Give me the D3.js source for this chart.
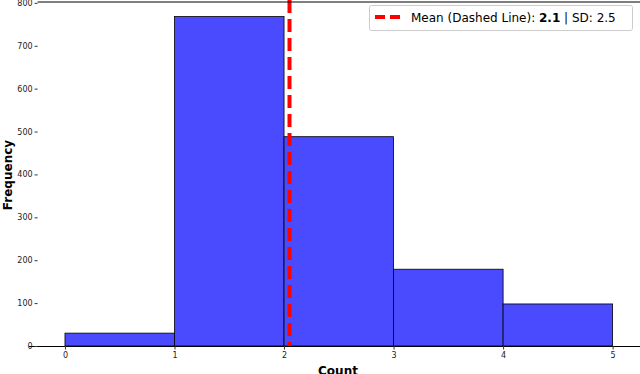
<!DOCTYPE html>
<html>
<head>
<meta charset="utf-8">
<script src="https://cdn.jsdelivr.net/npm/d3@7"></script>
<style>
  body { margin: 0; background: #fff; }
  svg { display: block; font-family: "DejaVu Sans", sans-serif; }
</style>
</head>
<body>
<svg id="chart" width="640" height="374"></svg>
<script>
// histogram bins (edges) and counts
const binEdges = [0, 1, 2, 3, 4, 5];
const binCounts = [30, 768, 488, 179, 98];
const xTicks = [0, 1, 2, 3, 4, 5];
const yTicks = [0, 100, 200, 300, 400, 500, 600, 700, 800];
const meanValue = 2.05;
const meanLabel = '2.1';
const sdLabel = '2.5';

const width = 640, height = 374;
const svg = d3.select('#chart');

const x = d3.scaleLinear().domain([-0.25, 5.25]).range([37.6, 640]);
const y = d3.scaleLinear().domain([0, 802]).range([346, 2]);

const bins = binCounts.map((c, i) => ({ x0: binEdges[i], x1: binEdges[i + 1], count: c }));

svg.selectAll('.bar')
  .data(bins)
  .enter().append('rect')
  .attr('class', 'bar')
  .attr('x', d => x(d.x0))
  .attr('width', d => x(d.x1) - x(d.x0))
  .attr('y', d => y(d.count))
  .attr('height', d => y(0) - y(d.count))
  .attr('fill', '#4a4aff')
  .attr('stroke', '#000')
  .attr('stroke-width', 0.8);

// mean line
svg.append('line')
  .attr('x1', x(meanValue)).attr('x2', x(meanValue))
  .attr('y1', 0).attr('y2', y(0))
  .attr('stroke', '#ff0000')
  .attr('stroke-width', 4)
  .attr('stroke-dasharray', '13,6');

// x axis
const xAxis = svg.append('g')
  .attr('transform', 'translate(0,' + y(0) + ')')
  .call(d3.axisBottom(x).tickValues(xTicks).tickSize(3.5).tickPadding(3).tickFormat(d3.format('d')));
xAxis.select('.domain').attr('d', 'M29,0.5H640').attr('stroke', '#000').attr('stroke-width', 1.2);
xAxis.selectAll('.tick text').attr('font-size', 8).attr('fill', '#222').attr('font-family', 'DejaVu Sans');
xAxis.selectAll('.tick line').attr('stroke', '#333');

// top spine
svg.append('line')
  .attr('x1', 37.6).attr('x2', 640)
  .attr('y1', y.range()[1]).attr('y2', y.range()[1])
  .attr('stroke', '#000').attr('stroke-width', 1.2);

// y axis (no spine)
const yAxis = svg.append('g')
  .attr('transform', 'translate(37.6,0)')
  .call(d3.axisLeft(y).tickValues(yTicks).tickSize(3).tickPadding(2));
yAxis.select('.domain').remove();
yAxis.selectAll('.tick text').attr('font-size', 8).attr('fill', '#222').attr('font-family', 'DejaVu Sans');
yAxis.selectAll('.tick line').attr('stroke', '#333');

// axis labels
svg.append('text')
  .attr('x', 338).attr('y', 375)
  .attr('text-anchor', 'middle')
  .attr('font-size', 12).attr('font-weight', 'bold')
  .text('Count');

svg.append('text')
  .attr('transform', 'translate(11.5,175) rotate(-90)')
  .attr('text-anchor', 'middle')
  .attr('font-size', 12).attr('font-weight', 'bold')
  .text('Frequency');

// legend
const legend = svg.append('g');
legend.append('rect')
  .attr('x', 369.5).attr('y', 5.5)
  .attr('width', 263).attr('height', 25)
  .attr('rx', 2)
  .attr('fill', '#fff').attr('fill-opacity', 0.85)
  .attr('stroke', '#ccc');
legend.append('line')
  .attr('x1', 375).attr('x2', 402)
  .attr('y1', 17).attr('y2', 17)
  .attr('stroke', '#ff0000').attr('stroke-width', 4)
  .attr('stroke-dasharray', '10,5');
const lt = legend.append('text')
  .attr('x', 411).attr('y', 22)
  .attr('font-size', 12).attr('fill', '#000');
lt.append('tspan').text('Mean (Dashed Line): ');
lt.append('tspan').attr('font-weight', 'bold').text(meanLabel);
lt.append('tspan').text(' | SD: ' + sdLabel);
</script>
</body>
</html>
